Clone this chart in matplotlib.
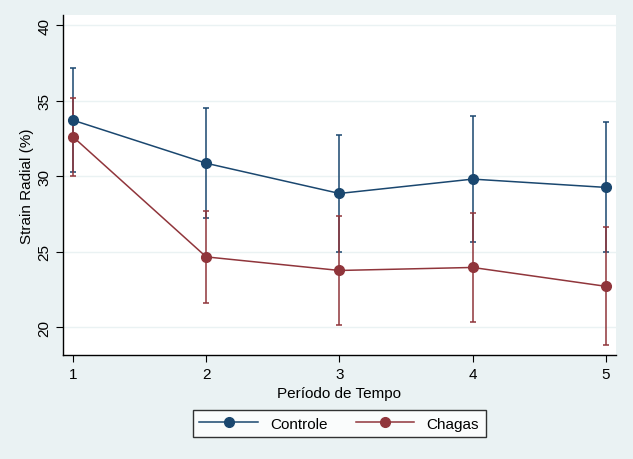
#!/usr/bin/env python3
"""Strain radial por período de tempo: Controle vs Chagas (média ± DP)."""
import matplotlib
matplotlib.use("Agg")
import matplotlib.pyplot as plt
from matplotlib.lines import Line2D

# --- dados ---
periodos = [1, 2, 3, 4, 5]
controle_media = [33.7, 30.85, 28.85, 29.8, 29.25]
controle_dp = [3.45, 3.65, 3.9, 4.15, 4.3]
chagas_media = [32.6, 24.65, 23.75, 23.95, 22.7]
chagas_dp = [2.6, 3.05, 3.6, 3.6, 3.9]

FUNDO = "#EAF2F3"
AZUL = "#1A476F"
VERMELHO = "#90353B"

plt.rcParams["font.family"] = ["Liberation Sans", "DejaVu Sans"]

fig = plt.figure(figsize=(6.33, 4.60), dpi=100, facecolor=FUNDO)
ax = fig.add_axes([0.0995, 0.226, 0.8735, 0.739])
ax.set_facecolor("white")

handles = []
for media, dp, cor, nome in [(controle_media, controle_dp, AZUL, "Controle"),
                             (chagas_media, chagas_dp, VERMELHO, "Chagas")]:
    ax.errorbar(periodos, media, yerr=dp, color=cor, ecolor=cor,
                marker="o", markersize=7, linewidth=1.1, elinewidth=1.1,
                capsize=2.5, capthick=1.1)
    handles.append(Line2D([], [], color=cor, marker="o", markersize=7,
                          linewidth=1.1, label=nome))

ax.set_xlim(0.925, 5.075)
ax.set_ylim(18.15, 40.66)
ax.set_xticks(periodos)
ax.set_yticks([20, 25, 30, 35, 40])
ax.yaxis.grid(True, color=FUNDO, linewidth=1.0)
ax.set_axisbelow(True)
for lado in ("top", "right"):
    ax.spines[lado].set_visible(False)
for lado in ("left", "bottom"):
    ax.spines[lado].set_color("black")
    ax.spines[lado].set_linewidth(1.0)

ax.tick_params(axis="both", labelsize=11, length=5, width=0.8, color="black")
for t in ax.get_yticklabels():
    t.set_rotation(90)
    t.set_va("center")

ax.set_xlabel("Período de Tempo", fontsize=11, labelpad=4)
ax.set_ylabel("Strain Radial (%)", fontsize=11, labelpad=2)

leg = fig.legend(handles=handles, loc="center", bbox_to_anchor=(0.536, 0.077),
                 ncol=2, fontsize=11, frameon=True, fancybox=False,
                 handlelength=3.8, columnspacing=1.9, borderpad=0.45)
leg.get_frame().set_edgecolor("black")
leg.get_frame().set_linewidth(1.0)

fig.savefig("out.png", dpi=100, facecolor=FUNDO)
